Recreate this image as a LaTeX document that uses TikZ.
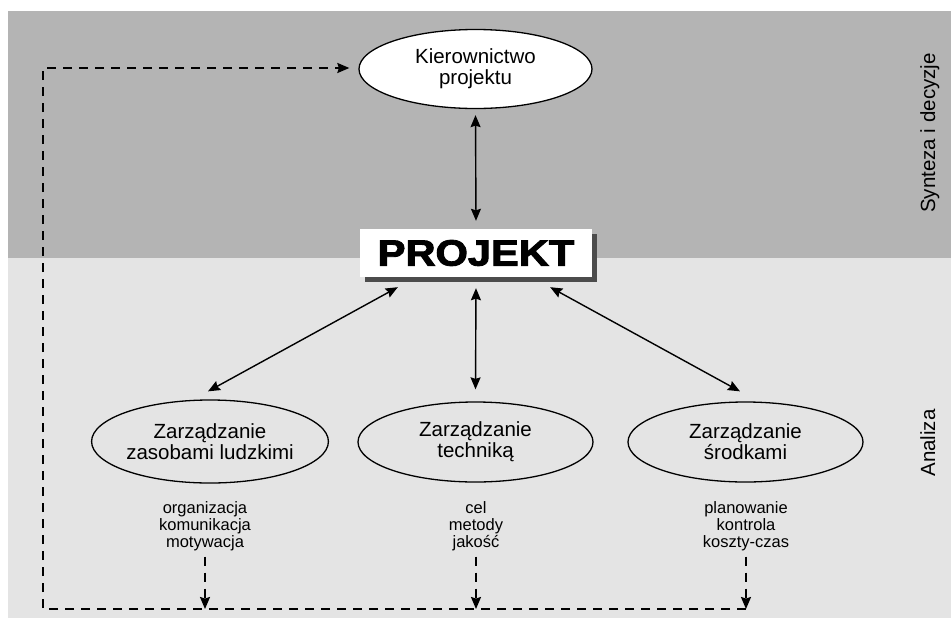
\documentclass[tikz,border=0pt]{standalone}
\usepackage{fontspec}
\setmainfont{Liberation Sans}
\newfontfamily\heavyfont[FakeBold=2.5]{Liberation Sans Bold}
\usetikzlibrary{arrows.meta,shapes.geometric,shadows,calc}
\definecolor{bandtop}{gray}{0.706}
\definecolor{bandlow}{gray}{0.894}
\definecolor{shadowgray}{gray}{0.30}

\begin{document}
\begin{tikzpicture}[x=1pt,y=-1pt,
  >={Stealth[length=12pt,width=10pt,inset=1.5pt]},
  mainfont/.style={font=\fontsize{20.5}{21}\selectfont},
  oval/.style={ellipse, draw=black, line width=1.3pt, inner sep=0pt,
    align=center, mainfont},
  titlebox/.style={rectangle, fill=white, inner sep=0pt,
    minimum width=232pt, minimum height=48pt,
    drop shadow={shadow xshift=5pt, shadow yshift=-5pt,
      fill=shadowgray, opacity=1}},
  note/.style={align=center, inner sep=1pt, anchor=south,
    font=\fontsize{16.5}{17}\selectfont},
  sidelabel/.style={rotate=90, anchor=base, inner sep=0pt, mainfont},
  duplex/.style={<->, line width=1.4pt},
  feedback/.style={line width=1.9pt, dash pattern=on 9pt off 7pt}
]
\useasboundingbox (0,0) rectangle (951,619);

% two bands: synthesis (top) and analysis (bottom)
\fill[bandtop] (8,11) rectangle (951,258);
\fill[bandlow] (8,258) rectangle (951,618);

% side captions
\node[sidelabel] (synth) at (935,133) {Synteza i decyzje};
\node[sidelabel] (anal) at (935,443) {Analiza};

% management and project
\node[oval, fill=white, minimum width=233pt, minimum height=79pt]
  (kier) at (475.5,69) {Kierownictwo\\projektu};
\node[titlebox] (proj) at (476,253)
  {\heavyfont\fontsize{36.5}{36.5}\selectfont\scalebox{1.14}[1]{PROJEKT}};

% three management areas
\node[oval, minimum width=220pt, minimum height=83pt]
  (hr) at (210,441.5) {Zarządzanie\\zasobami ludzkimi};
\node[oval, minimum width=235pt, minimum height=80pt]
  (tech) at (475.5,442) {Zarządzanie\\techniką};
\node[oval, minimum width=235pt, minimum height=80pt]
  (fin) at (745.5,442) {Zarządzanie\\środkami};

% area details
\node[note] (hrnote) at (205,552.5) {organizacja\\komunikacja\\motywacja};
\node[note] (technote) at (476,552.5) {cel\\metody\\jakość};
\node[note] (finnote) at (746,552.5) {planowanie\\kontrola\\koszty-czas};

% two-way links
\draw[duplex] ($(kier.south)+(0,6)$) -- ($(proj.north)+(0,-8)$);
\draw[duplex] ($(proj.south west)+(38,10)$) -- ($(hr.north)+(-2,-8)$);
\draw[duplex] ($(proj.south)+(0,11)$) -- ($(tech.north)+(0,-12)$);
\draw[duplex] ($(proj.south east)+(-42,10)$) -- ($(fin.north)+(-5.5,-10)$);

% feedback loop back to management
\coordinate (loopbl) at (43,609);
\coordinate (looptl) at (43,68);
\coordinate (hrdrop) at (hrnote.south |- loopbl);
\coordinate (techdrop) at (technote.south |- loopbl);
\coordinate (findrop) at (finnote.south |- loopbl);

\draw[feedback, ->, shorten <=4pt] (hrnote.south) -- (hrdrop);
\draw[feedback, ->, shorten <=4pt] (technote.south) -- (techdrop);
\draw[feedback, ->, shorten <=4pt] (finnote.south) -- (findrop);
\draw[feedback, ->] (findrop) -- (loopbl) -- (looptl)
  -- ($(kier.west)+(-9,-1)$);
\end{tikzpicture}
\end{document}
